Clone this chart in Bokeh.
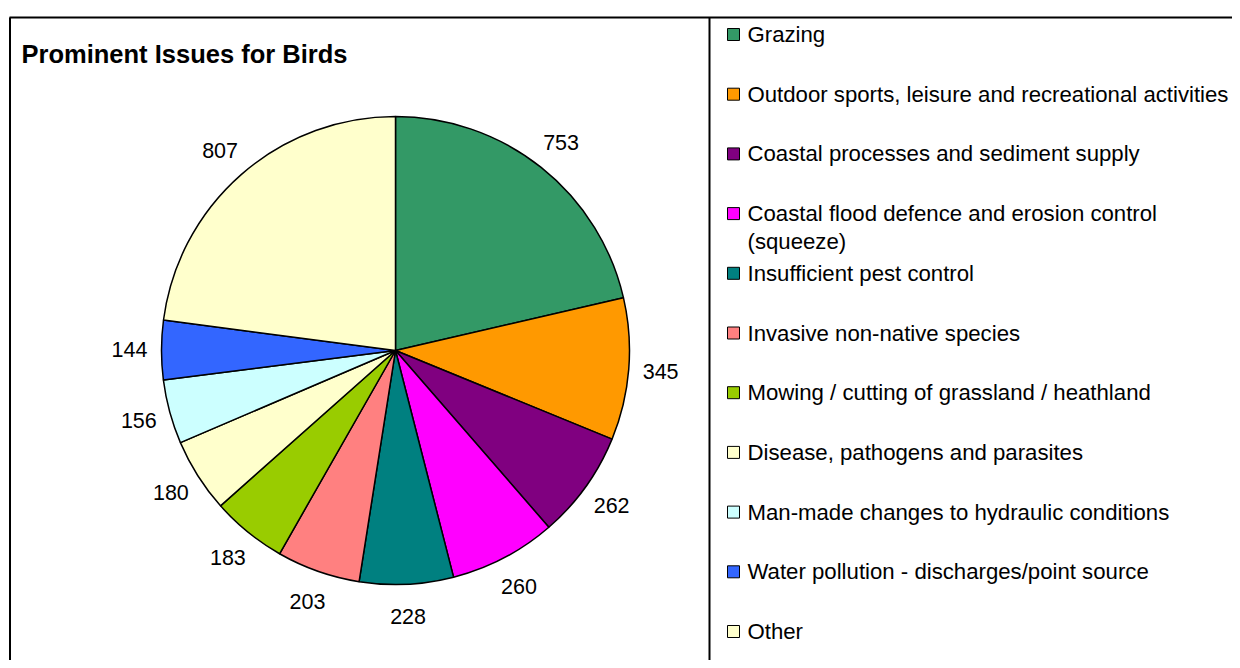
import math
from bokeh.plotting import figure
from bokeh.models import Range1d, ColumnDataSource
from bokeh.core.properties import value
from bokeh.embed import file_html
from bokeh.resources import INLINE

# ---- data ----
title = "Prominent Issues for Birds"
categories = [
    "Grazing",
    "Outdoor sports, leisure and recreational activities",
    "Coastal processes and sediment supply",
    "Coastal flood defence and erosion control (squeeze)",
    "Insufficient pest control",
    "Invasive non-native species",
    "Mowing / cutting of grassland / heathland",
    "Disease, pathogens and parasites",
    "Man-made changes to hydraulic conditions",
    "Water pollution - discharges/point source",
    "Other",
]
counts = [753, 345, 262, 260, 228, 203, 183, 180, 156, 144, 807]
colors = ["#339966", "#FF9900", "#800080", "#FF00FF", "#008080", "#FF8080",
          "#99CC00", "#FFFFCC", "#CCFFFF", "#3366FF", "#FFFFCC"]
# legend line breaks (layout)
legend_lines = [[c] for c in categories]
legend_lines[3] = ["Coastal flood defence and erosion control", "(squeeze)"]

FONT = value("Liberation Sans")

W, H = 1232, 660
p = figure(width=W, height=H, output_backend="svg", toolbar_location=None,
           x_range=Range1d(0, W), y_range=Range1d(-H, 0),
           min_border=0, tools="")
p.axis.visible = False
p.grid.visible = False
p.outline_line_color = None
p.background_fill_color = "white"
p.border_fill_color = "white"

# frame lines
p.segment(x0=[9, 9.5, 709], y0=[-17, -17, -17], x1=[W, 9.5, 709], y1=[-17, -H, -H],
          line_color="black", line_width=2)

# pie
cx, cy, R = 395, -350, 234
total = float(sum(counts))
cum = [0.0]
for v in counts:
    cum.append(cum[-1] + v)
starts = [math.pi / 2 - 2 * math.pi * cum[i + 1] / total for i in range(len(counts))]
ends = [math.pi / 2 - 2 * math.pi * cum[i] / total for i in range(len(counts))]
src = ColumnDataSource(dict(x=[cx] * len(counts), y=[cy] * len(counts),
                            start=starts, end=ends, color=colors))
p.wedge(x="x", y="y", radius=R, start_angle="start", end_angle="end",
        direction="anticlock", fill_color="color", line_color="black",
        line_width=1.5, source=src)

# data labels
lr = 266
mids = [math.pi / 2 - 2 * math.pi * (cum[i] + counts[i] / 2) / total for i in range(len(counts))]
lx = [cx + lr * math.cos(a) for a in mids]
ly = [cy + lr * math.sin(a) for a in mids]
p.text(x=lx, y=ly, text=[str(v) for v in counts], text_font=FONT,
       text_font_size="21.5px", text_align="center", text_baseline="middle",
       text_color="black")

# title
p.text(x=[21], y=[-53], text=[title], text_font=FONT, text_font_size="25.5px",
       text_font_style="bold", text_align="left", text_baseline="middle",
       text_color="black")

# legend
step = 59.7
ys0 = [34 + i * step for i in range(len(categories))]
p.rect(x=[733] * len(categories), y=[-y for y in ys0], width=12, height=12,
       fill_color=colors, line_color="black", line_width=1)
tx, ty, tt = [], [], []
for i, lines in enumerate(legend_lines):
    for j, t in enumerate(lines):
        tx.append(747)
        ty.append(-(ys0[i] + j * 28))
        tt.append(t)
p.text(x=tx, y=ty, text=tt, text_font=FONT, text_font_size="22.2px",
       text_align="left", text_baseline="middle", text_color="black")

open("out.html", "w").write(file_html(p, INLINE))
